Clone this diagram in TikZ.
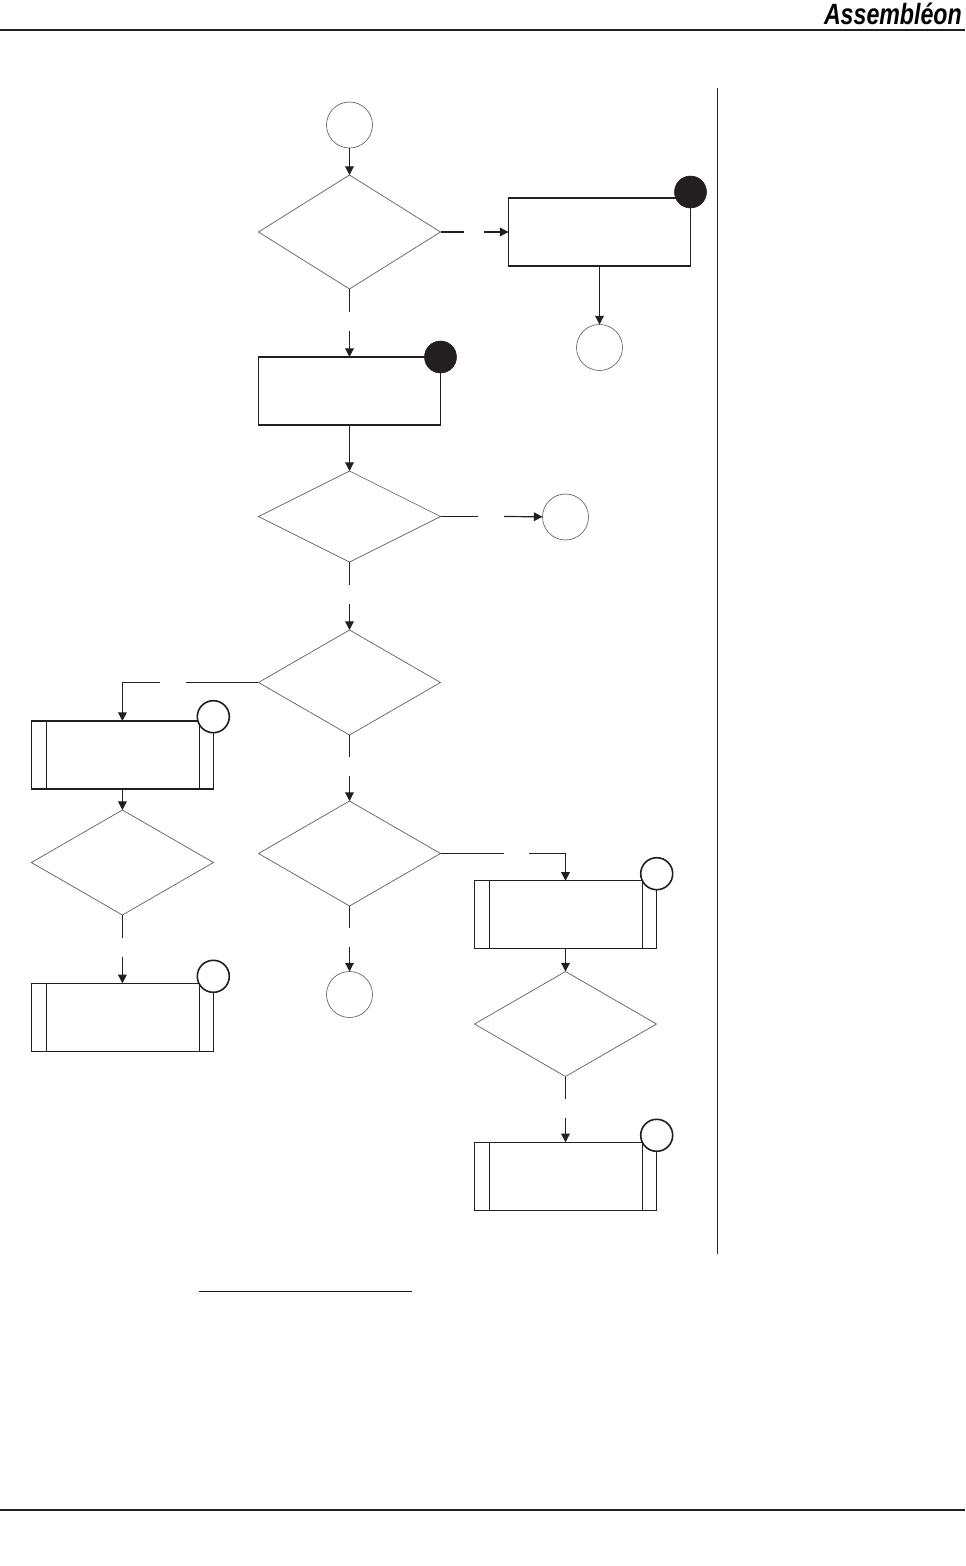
\documentclass[tikz,border=0pt]{standalone}
\usepackage{fontspec}
\setmainfont{Liberation Sans}
\usetikzlibrary{shapes.geometric,arrows.meta}
\definecolor{ink}{HTML}{231F20}
\begin{document}
\begin{tikzpicture}[
    x=0.75pt, y=-0.75pt,
    every node/.style={inner sep=0pt, outer sep=0pt},
    rule/.style={ink, line width=1.1pt},
    thinrule/.style={ink, line width=0.6pt},
    decision/.style={diamond, draw=ink!75, line width=0.5pt, minimum width=136.5pt},
    stepbox/.style={rectangle, draw=ink, line width=0.9pt, minimum width=136.5pt, minimum height=51pt},
    subbox/.style={stepbox, path picture={
        \draw[ink, line width=0.9pt] ([xshift=11.25pt]path picture bounding box.north west) -- ([xshift=11.25pt]path picture bounding box.south west);
        \draw[ink, line width=0.9pt] ([xshift=-10.5pt]path picture bounding box.north east) -- ([xshift=-10.5pt]path picture bounding box.south east);
    }},
    terminal/.style={circle, draw=ink!70, line width=0.5pt, fill=white, minimum size=34.5pt},
    badge/.style={circle, draw=ink, fill=ink, minimum size=24pt},
    openbadge/.style={circle, draw=ink, line width=1.2pt, fill=white, minimum size=24pt},
    flow/.style={ink, line width=0.9pt},
    arrow/.style={flow, -{Triangle[length=6.5pt,width=6.5pt]}}
]
\useasboundingbox (0,0) rectangle (965,1566);

% Page furniture
\coordinate (headL) at (0,30);
\coordinate (headR) at (965,30);
\coordinate (footL) at (0,1510);
\coordinate (footR) at (965,1510);
\coordinate (sideT) at (717.5,88);
\coordinate (sideB) at (717.5,1254);
\coordinate (noteL) at (199,1291);
\coordinate (noteR) at (412,1291);
\draw[rule] (headL) -- (headR);
\draw[rule] (footL) -- (footR);
\draw[flow] (sideT) -- (sideB);
\draw[thinrule] (noteL) -- (noteR);
\node[anchor=base west, xscale=0.79, transform shape, font=\fontsize{22}{22}\selectfont\bfseries\itshape, text=black] (logo) at (824,24.5) {Assembléon};

% Centre column
\node[terminal] (start) at (349.5,125) {};
\node[decision, minimum height=85.5pt] (d1) at (349.5,232) {};
\node[stepbox] (b1) at (349.5,391) {};
\node[decision, minimum height=68.25pt] (d2) at (349.5,516.5) {};
\node[decision, minimum height=78.75pt] (d3) at (349.5,682.5) {};
\node[decision, minimum height=78.75pt] (d4) at (349.5,853.5) {};
\node[terminal] (end1) at (349.5,994.5) {};

% Right of the top
\node[stepbox] (b2) at (599.5,232) {};
\node[terminal] (end2) at (599.5,347.5) {};
\node[terminal] (end3) at (565.5,517) {};

% Left column
\node[subbox] (s1) at (122.4,755) {};
\node[decision, minimum height=78.75pt] (d5) at (122.4,862.5) {};
\node[subbox] (s2) at (122.4,1017.3) {};

% Right column
\node[subbox] (s3) at (565.5,914.8) {};
\node[decision, minimum height=78.75pt] (d6) at (565.5,1024) {};
\node[subbox] (s4) at (565.5,1176.3) {};

% Badges
\node[badge] (m1) at (440.5,357) {};
\node[badge] (m2) at (690.5,192) {};
\node[openbadge] (m3) at (213.3,716.7) {};
\node[openbadge] (m4) at (213.3,976.3) {};
\node[openbadge] (m5) at (656.7,873.7) {};
\node[openbadge] (m6) at (656.7,1135.3) {};

% Line ends either side of the gaps
\coordinate (g1a) at (349.5,311.7);
\coordinate (g1b) at (349.5,331);
\coordinate (g2a) at (464,232);
\coordinate (g2b) at (484,232);
\coordinate (g3a) at (478,516.5);
\coordinate (g3b) at (504,516.5);
\coordinate (g4a) at (349.5,585);
\coordinate (g4b) at (349.5,604);
\coordinate (g5a) at (186,682.5);
\coordinate (g5b) at (160,682.5);
\coordinate (g6a) at (349.5,756.7);
\coordinate (g6b) at (349.5,776);
\coordinate (g7a) at (349.5,927.7);
\coordinate (g7b) at (349.5,946.7);
\coordinate (g8a) at (504,853.5);
\coordinate (g8b) at (529,853.5);
\coordinate (g9a) at (122.4,937.7);
\coordinate (g9b) at (122.4,956.7);
\coordinate (g10a) at (565.5,1098.7);
\coordinate (g10b) at (565.5,1118);

% Connections
\draw[arrow] (start) -- (d1);
\draw[flow] (d1) -- (g1a);
\draw[arrow] (g1b) -- (b1);
\draw[flow] (d1) -- (g2a);
\draw[arrow] (g2b) -- (b2);
\draw[arrow] (b2) -- (end2);
\draw[arrow] (b1) -- (d2);
\draw[flow] (d2) -- (g3a);
\draw[arrow] (g3b) -- (end3);
\draw[flow] (d2) -- (g4a);
\draw[arrow] (g4b) -- (d3);
\draw[flow] (d3) -- (g5a);
\draw[arrow] (g5b) -| (s1.north);
\draw[flow] (d3) -- (g6a);
\draw[arrow] (g6b) -- (d4);
\draw[flow] (d4) -- (g7a);
\draw[arrow] (g7b) -- (end1);
\draw[flow] (d4) -- (g8a);
\draw[arrow] (g8b) -| (s3.north);
\draw[arrow] (s1) -- (d5);
\draw[flow] (d5) -- (g9a);
\draw[arrow] (g9b) -- (s2);
\draw[arrow] (s3) -- (d6);
\draw[flow] (d6) -- (g10a);
\draw[arrow] (g10b) -- (s4);

\end{tikzpicture}
\end{document}
